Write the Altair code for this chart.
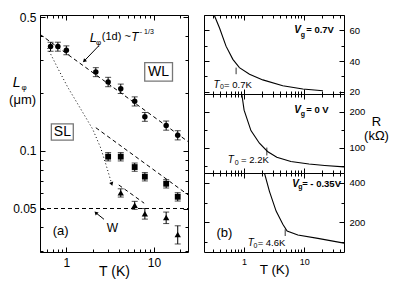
import altair as alt
import pandas as pd

FONT = "Liberation Sans"

# ---------------- panel (a): L_phi vs T ----------------
T_circle = [0.66, 0.80, 1.0, 2.17, 3.0, 4.18, 6.03, 7.88, 13.8, 18.7]
L_circle = [0.352, 0.352, 0.337, 0.259, 0.230, 0.212, 0.182, 0.151, 0.136, 0.121]
E_circle = [0.019, 0.019, 0.018, 0.014, 0.013, 0.012, 0.010, 0.008, 0.0075, 0.0067]

T_square = [3.0, 4.18, 6.03, 7.88, 13.8, 18.7]
L_square = [0.0934, 0.0934, 0.0824, 0.0734, 0.0674, 0.0576]
E_square = [0.0047, 0.0047, 0.0041, 0.0037, 0.0034, 0.0029]

T_triangle = [4.18, 6.03, 7.88, 13.8, 18.7]
L_triangle = [0.0604, 0.052, 0.047, 0.0448, 0.0366]
E_triangle = [0.0030, 0.0025, 0.0030, 0.0031, 0.0040]

# dashed guide lines (end points)
guide_id = ["wl", "wl", "sl", "sl", "low", "low", "w", "w"]
guide_T = [0.5, 24.5, 2.17, 24.5, 3.97, 7.74, 0.5, 24.5]
guide_L = [0.408, 0.112, 0.1324, 0.059, 0.0664, 0.0533, 0.05, 0.05]

# dotted curve
dot_T = [0.611, 0.795, 1.035, 1.458, 2.0, 2.47, 2.82, 3.3]
dot_L = [0.346, 0.272, 0.216, 0.166, 0.130, 0.1036, 0.0855, 0.0672]

# annotation arrows
arrow_id = ["lphi", "lphi", "w", "w"]
arrow_T = [2.34, 1.6, 2.69, 2.17]
arrow_L = [0.355, 0.296, 0.0439, 0.0475]
head_T = [1.6, 2.17, 3.3]
head_L = [0.296, 0.0475, 0.0672]
head_angle = [45, 135, 342]

# boxes around WL / SL
box_T1 = [7.85, 0.674]
box_T2 = [16.3, 1.20]
box_L1 = [0.29, 0.1385]
box_L2 = [0.232, 0.114]

# texts of panel (a)
ta_text = ["L", "\u03c6", "(1d) ~", "T", "- 1/3", "WL", "SL", "(a)", "W", "L", "\u03c6", "(\u03bcm)"]
ta_T = [2.04, 2.33, 2.54, 5.5, 6.9, 11.3, 0.9, 0.86, 3.36, 0.27, 0.33, 0.316]
ta_L = [0.392, 0.368, 0.395, 0.395, 0.42, 0.259, 0.1257, 0.0381, 0.0397, 0.228, 0.2136, 0.186]
ta_size = [13, 8, 11, 12, 7, 14, 14, 13, 12, 14, 8, 13]
ta_style = ["italic", "normal", "normal", "italic", "normal", "normal", "normal", "normal", "normal", "italic", "normal", "normal"]
ta_align = ["center", "center", "left", "left", "left", "center", "center", "center", "center", "center", "center", "center"]

# ---------------- panel (b): R vs T ----------------
T_b1 = [0.32, 0.39, 0.50, 0.65, 0.835, 1.23, 2.05, 4.4, 9.5, 20.5]
R_b1 = [69.7, 61.5, 49.7, 41.1, 35.7, 31.4, 27.7, 23.9, 21.8, 20.6]
T_b2 = [0.915, 1.0, 1.3, 1.8, 2.45, 3.5, 6.0, 12.0, 22.0, 46.0]
R_b2 = [250, 205, 148, 113, 90, 74, 62, 55, 51, 47]
T_b3 = [2.18, 2.64, 3.41, 4.41, 5.2, 7.85, 16.9, 46.0]
R_b3 = [450, 357, 257, 190, 156, 136, 119, 95]

tb1_text = ["V", "g", "=  0.7V", "T", "0", "= 0.7K"]
tb1_T = [6.81, 8.75, 10.8, 0.308, 0.398, 0.464]
tb1_R = [60, 57.0, 60, 24.5, 22.8, 24.5]
tb2_text = ["V", "g", "= 0 V", "T", "0", "= 2.2K"]
tb2_T = [6.81, 8.75, 10.8, 0.535, 0.70, 0.891]
tb2_R = [205.6, 195, 205.6, 65.6, 57.5, 65.6]
tb3_text = ["V", "g", "= - 0.35V", "T", "0", "= 4.6K", "(b)"]
tb3_T = [6.31, 7.94, 9.25, 1.15, 1.43, 1.68, 0.47]
tb3_R = [395, 378, 395, 97, 82, 97, 147.5]
tb_size = [10, 7, 9.5, 10, 7, 9.5, 13]
tb_style = ["italic", "normal", "normal", "italic", "normal", "normal", "normal"]
tb_weight = ["bold", "bold", "bold", "normal", "normal", "normal", "normal"]

# T0 markers
m_T = [0.736, 2.39, 4.83]
m_R1 = [31.4, 78.9, 131]
m_R2 = [35.7, 100.8, 165]

XA_MAJ = [1, 10]
XA_MIN = [0.5, 0.6, 0.7, 0.8, 0.9, 2, 3, 4, 5, 6, 7, 8, 9, 20]
YA_MAJ = [0.05, 0.1, 0.5]
YA_MIN = [0.03, 0.04, 0.06, 0.07, 0.08, 0.09, 0.2, 0.3, 0.4]
XB_MAJ = [1, 10]
XB_MIN = [0.3, 0.4, 0.5, 0.6, 0.7, 0.8, 0.9, 2, 3, 4, 5, 6, 7, 8, 9, 20, 30, 40]


def ax(orient, values, size, labels, fs, extra=None):
    kw = dict(orient=orient, values=values, tickSize=size, offset=-size, domain=False,
              grid=False, labels=labels, ticks=True, tickColor="black", tickWidth=1,
              title=None, labelFont=FONT, labelFontSize=fs, labelColor="black",
              labelPadding=4, format="~g")
    if extra:
        kw.update(extra)
    return alt.Axis(**kw)


def axis_layers(xs, ys, xmaj, xmin, ymaj, ymin, xlab, ylab, xfs, yfs, xextra=None, yextra=None):
    d = pd.DataFrame({"u": [xmaj[0]], "v": [ymaj[0]]})

    def mk(xaxis, yaxis):
        return alt.Chart(d).mark_point(opacity=0).encode(
            x=alt.X("u:Q", scale=xs, axis=xaxis),
            y=alt.Y("v:Q", scale=ys, axis=yaxis))

    left_extra = yextra if ylab == "left" else None
    right_extra = yextra if ylab == "right" else None
    return [
        mk(ax("bottom", xmaj, 5, xlab, xfs, xextra), ax("left", ymaj, 5, ylab == "left", yfs, left_extra)),
        mk(ax("bottom", xmin, 3, False, xfs), ax("left", ymin, 3, False, yfs)),
        mk(ax("top", xmaj, 5, False, xfs), ax("right", ymaj, 5, ylab == "right", yfs, right_extra)),
        mk(ax("top", xmin, 3, False, xfs), ax("right", ymin, 3, False, yfs)),
    ]


def xy(xf, yf, xs, ys):
    return dict(x=alt.X(xf, scale=xs, axis=None), y=alt.Y(yf, scale=ys, axis=None))


def text_layers(df, xf, yf, xs, ys):
    out = []
    for i, row in df.iterrows():
        out.append(alt.Chart(df.iloc[[i]]).mark_text(
            font=FONT, fontStyle=row["style"], fontWeight=row["weight"], align=row["align"],
            baseline="middle", color="black", fontSize=float(row["size"])).encode(
            text="text:N", **xy(xf, yf, xs, ys)))
    return out


# ---------------- build panel (a) ----------------
xa = alt.Scale(type="log", domain=[0.5, 24.5], nice=False)
ya = alt.Scale(type="log", domain=[0.0296, 0.515], nice=False)


def series_df(T, L, E):
    df = pd.DataFrame({"T": T, "L": L, "E": E})
    df["lo"] = df["L"] - df["E"]
    df["hi"] = df["L"] + df["E"]
    return df


d_circ = series_df(T_circle, L_circle, E_circle)
d_sq = series_df(T_square, L_square, E_square)
d_tri = series_df(T_triangle, L_triangle, E_triangle)

layers_a = axis_layers(
    xa, ya, XA_MAJ, XA_MIN, YA_MAJ, YA_MIN, True, "left", 12, 12,
    xextra=dict(title="T (K)", titleFont=FONT, titleFontSize=14, titleFontWeight="normal",
                titleColor="black", titleY=24, titleBaseline="middle", labelPadding=5))

guides = pd.DataFrame({"id": guide_id, "T": guide_T, "L": guide_L})
layers_a.append(alt.Chart(guides).mark_line(color="black", strokeWidth=1, strokeDash=[4, 3]).encode(
    detail="id:N", **xy("T:Q", "L:Q", xa, ya)))
dots = pd.DataFrame({"T": dot_T, "L": dot_L})
layers_a.append(alt.Chart(dots).mark_line(color="black", strokeWidth=1, strokeDash=[1, 2.5]).encode(
    **xy("T:Q", "L:Q", xa, ya)))
arrows = pd.DataFrame({"id": arrow_id, "T": arrow_T, "L": arrow_L})
layers_a.append(alt.Chart(arrows).mark_line(color="black", strokeWidth=1).encode(
    detail="id:N", **xy("T:Q", "L:Q", xa, ya)))
heads = pd.DataFrame({"T": head_T, "L": head_L, "a": head_angle})
layers_a.append(alt.Chart(heads).mark_point(shape="triangle-down", filled=True, size=18,
                                             color="black", opacity=1).encode(
    angle=alt.Angle("a:Q", scale=None), **xy("T:Q", "L:Q", xa, ya)))
boxes = pd.DataFrame({"T1": box_T1, "T2": box_T2, "L1": box_L1, "L2": box_L2})
layers_a.append(alt.Chart(boxes).mark_rect(fill="white", stroke="#777777", strokeWidth=1.3).encode(
    x=alt.X("T1:Q", scale=xa, axis=None), x2="T2:Q",
    y=alt.Y("L1:Q", scale=ya, axis=None), y2="L2:Q"))

for dfs, shape, size in [(d_circ, "circle", 30), (d_sq, "square", 34), (d_tri, "triangle-up", 40)]:
    layers_a.append(alt.Chart(dfs).mark_rule(color="black", strokeWidth=1).encode(
        x=alt.X("T:Q", scale=xa, axis=None), y=alt.Y("lo:Q", scale=ya, axis=None), y2="hi:Q"))
    for f in ["lo", "hi"]:
        layers_a.append(alt.Chart(dfs).mark_tick(orient="horizontal", size=6, thickness=1,
                                                 color="black").encode(**xy("T:Q", f + ":Q", xa, ya)))
    layers_a.append(alt.Chart(dfs).mark_point(shape=shape, filled=True, size=size, color="black",
                                              opacity=1).encode(**xy("T:Q", "L:Q", xa, ya)))

ta = pd.DataFrame({"text": ta_text, "T": ta_T, "L": ta_L, "size": ta_size, "style": ta_style,
                   "align": ta_align, "weight": ["normal"] * len(ta_text)})
layers_a += text_layers(ta, "T:Q", "L:Q", xa, ya)

panel_a = alt.layer(*layers_a).resolve_axis(x="independent", y="independent").properties(
    width=148, height=237)

# ---------------- build panel (b) ----------------
xb = alt.Scale(type="log", domain=[0.215, 46], nice=False)


def panel_b(T, R, rdom, rmaj, rmin, txt, tT, tR, mi, bottom, rtitle=None):
    ys = alt.Scale(domain=rdom, nice=False, zero=False)
    xextra = dict(labelPadding=5)
    if bottom:
        xextra.update(title="T (K)", titleFont=FONT, titleFontSize=13.5, titleFontWeight="normal",
                      titleColor="black", titleY=22, titleBaseline="middle")
    yextra = dict(labelPadding=5, format="d")
    if rtitle:
        yextra.update(title=rtitle, titleFont=FONT, titleFontSize=13, titleFontWeight="normal",
                      titleColor="black", titleAngle=0, titleAlign="center", titleBaseline="middle",
                      titleX=37, titleY=27, titleLineHeight=14)
    layers = axis_layers(xb, ys, XB_MAJ, XB_MIN, rmaj, rmin, bottom, "right", 9, 9.5,
                         xextra=xextra, yextra=yextra)
    cdf = pd.DataFrame({"T": T, "R": R})
    layers.append(alt.Chart(cdf).mark_line(color="black", strokeWidth=1.1, clip=True).encode(
        **xy("T:Q", "R:Q", xb, ys)))
    mdf = pd.DataFrame({"T": [m_T[mi]], "R1": [m_R1[mi]], "R2": [m_R2[mi]]})
    layers.append(alt.Chart(mdf).mark_rule(color="black", strokeWidth=0.8).encode(
        x=alt.X("T:Q", scale=xb, axis=None), y=alt.Y("R1:Q", scale=ys, axis=None), y2="R2:Q"))
    n = len(txt)
    tdf = pd.DataFrame({"text": txt, "T": tT, "R": tR, "size": tb_size[:n], "style": tb_style[:n],
                        "weight": tb_weight[:n], "align": ["left"] * n})
    if n > 6:
        tdf.loc[6, "align"] = "center"
    layers += text_layers(tdf, "T:Q", "R:Q", xb, ys)
    return alt.layer(*layers).resolve_axis(x="independent", y="independent").properties(
        width=140, height=79)


b1 = panel_b(T_b1, R_b1, [18.5, 70], [20, 40, 60], [30, 50, 70], tb1_text, tb1_T, tb1_R, 0, False)
b2 = panel_b(T_b2, R_b2, [30, 250], [100, 200], [50, 150, 250], tb2_text, tb2_T, tb2_R, 1, False,
             rtitle=["R", "(k\u03a9)"])
b3 = panel_b(T_b3, R_b3, [50, 450], [200, 400], [100, 300], tb3_text, tb3_T, tb3_R, 2, True)

panel_bv = alt.VConcatChart(vconcat=[b1, b2, b3], spacing=0, bounds="flush")

chart = alt.HConcatChart(hconcat=[panel_a, panel_bv], spacing=16, bounds="flush").properties(
    padding={"left": 0, "top": 2, "right": 0, "bottom": 0}, background="white"
).configure_view(stroke="black", strokeWidth=1)

chart.save("out.html", embed_options={"renderer": "svg", "actions": False})
